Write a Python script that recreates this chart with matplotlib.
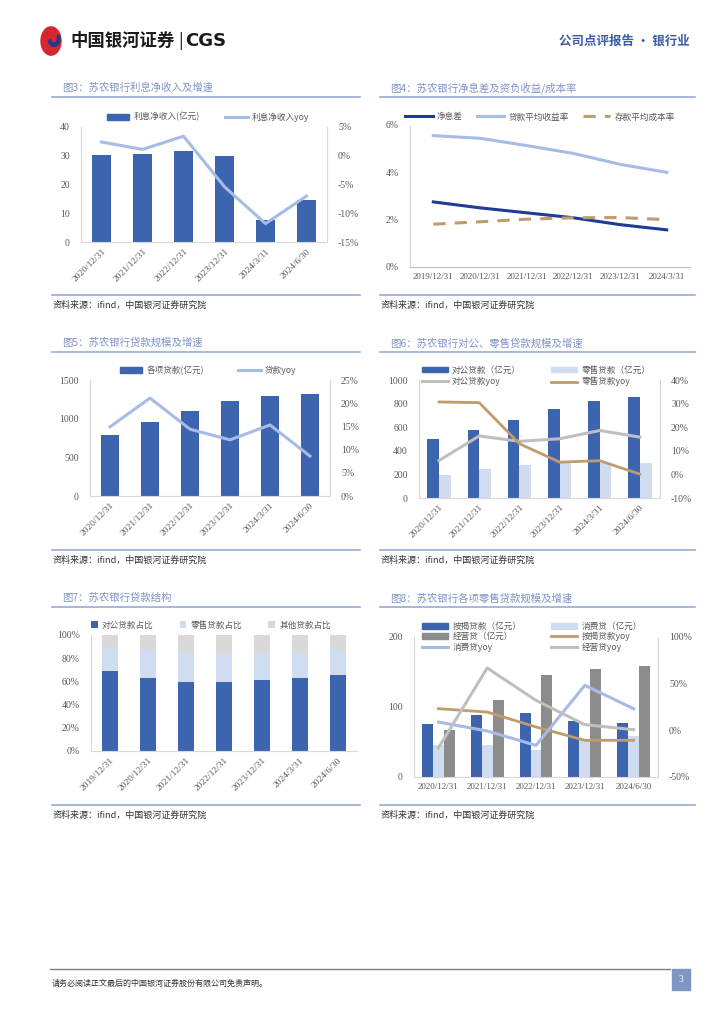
import matplotlib
matplotlib.use("Agg")
import matplotlib.pyplot as plt
from matplotlib.lines import Line2D
from matplotlib.patches import Patch, Circle, Rectangle, Wedge
from matplotlib.ticker import FuncFormatter, MultipleLocator

plt.rcParams['font.family'] = ['Noto Sans CJK SC', 'DejaVu Sans']
plt.rcParams['axes.unicode_minus'] = False

W, H = 724, 1024

# ---- data ----
cat_a = ["2020/12/31", "2021/12/31", "2022/12/31", "2023/12/31", "2024/3/31", "2024/6/30"]
nii = [30.4, 30.7, 31.8, 30.0, 7.5, 14.7]
nii_yoy = [2.4, 1.1, 3.4, -5.4, -11.8, -7.0]

cat_b = ["2019/12/31", "2020/12/31", "2021/12/31", "2022/12/31", "2023/12/31", "2024/3/31"]
nim = [2.75, 2.50, 2.29, 2.08, 1.79, 1.57]
loan_yield = [5.55, 5.44, 5.13, 4.80, 4.34, 4.00]
dep_cost = [1.81, 1.91, 2.02, 2.08, 2.09, 2.00]

loans = [789, 961, 1099, 1228, 1297, 1319]
loans_yoy = [14.9, 21.1, 14.4, 12.1, 15.3, 8.6]

corp = [501, 577, 659, 755, 823, 859]
retail = [192, 248, 279, 300, 300, 296]
corp_yoy = [5.9, 16.3, 14.0, 15.1, 18.6, 15.8]
retail_yoy = [30.7, 30.4, 13.0, 5.2, 5.8, 0.1]

cat_c = ["2019/12/31", "2020/12/31", "2021/12/31", "2022/12/31", "2023/12/31", "2024/3/31", "2024/6/30"]
corp_pct = [68.6, 62.8, 59.9, 59.7, 61.1, 63.1, 65.4]
retail_pct = [20.7, 23.9, 25.7, 25.0, 23.6, 21.9, 21.9]
other_pct = [100 - a - b for a, b in zip(corp_pct, retail_pct)]

cat_d = ["2020/12/31", "2021/12/31", "2022/12/31", "2023/12/31", "2024/6/30"]
mortgage = [75.2, 89.0, 91.9, 80.5, 76.7]
consumer = [45.2, 45.2, 38.1, 54.8, 58.1]
business = [66.7, 110.5, 146.2, 153.8, 158.1]
mortgage_yoy = [23.2, 19.6, 3.6, -10.7, -10.7]
consumer_yoy = [8.9, -0.7, -16.1, 48.2, 23.2]
business_yoy = [-18.9, 66.8, 32.1, 6.1, 0.7]

# ---- style ----
BLUE = "#3D64AE"
LBLUE = "#A6BBE6"
PALE = "#D0DCF0"
NAVY = "#1F3B93"
TAN = "#BE9C6C"
GRAY = "#8C8C8C"
LGRAY = "#BFBFBF"
OGRAY = "#D9D9D9"
TITLE_C = "#8093C6"
LINE_C = "#9AAAD4"
TXT = "#595959"
NUMF = ['Liberation Serif', 'Noto Sans CJK SC']

fig = plt.figure(figsize=(W / 100, H / 100), dpi=100)


def rect(x0, y0, x1, y1):
    return [x0 / W, 1 - y1 / H, (x1 - x0) / W, (y1 - y0) / H]


def ftext(x, y, s, **kw):
    fig.text(x / W, 1 - y / H, s, **kw)


def hline(x0, x1, y, color, lw):
    fig.add_artist(Line2D([x0 / W, x1 / W], [1 - y / H, 1 - y / H], color=color, lw=lw))


def style(ax, right=None):
    for s in ["top", "right"]:
        ax.spines[s].set_visible(False)
    ax.spines["left"].set_color(OGRAY)
    ax.spines["bottom"].set_color(OGRAY)
    ax.tick_params(axis="y", length=0, labelsize=7, colors=TXT, pad=8)
    ax.tick_params(axis="x", length=0, pad=4)
    for lab in ax.get_yticklabels():
        lab.set_family(NUMF)
    if right is not None:
        for s in ["top", "left", "bottom"]:
            right.spines[s].set_visible(False)
        right.spines["right"].set_color(OGRAY)
        right.tick_params(length=0, labelsize=7, colors=TXT, pad=8)
        for lab in right.get_yticklabels():
            lab.set_family(NUMF)


def xlabels(ax, cats, rot):
    ax.set_xticks(range(len(cats)))
    if rot:
        ax.set_xticklabels(cats, rotation=45, ha="right", rotation_mode="anchor",
                           family=NUMF, fontsize=6.8, color=TXT)
    else:
        ax.set_xticklabels(cats, family=NUMF, fontsize=6.5, color=TXT)
    ax.set_xlim(-0.5, len(cats) - 0.5)


def legend(ax, handles, labels, cx, cy, ncol, **kw):
    opts = dict(loc="center", bbox_to_anchor=(cx / W, 1 - cy / H), bbox_transform=fig.transFigure,
                ncol=ncol, frameon=False, prop={'family': ['Noto Sans CJK SC', 'DejaVu Sans'], 'size': 6.2},
                handlelength=3.2, handletextpad=0.5, columnspacing=3.0, labelspacing=0.3,
                labelcolor=TXT)
    opts.update(kw)
    ax.legend(handles, labels, **opts)


def frame(x0, x1, ytitle, title):
    ftext(x0 + 10, ytitle, title, fontsize=7.5, color=TITLE_C, va="center")
    hline(x0, x1, ytitle + 9, LINE_C, 1.2)
    hline(x0, x1, ytitle + 207, LINE_C, 1.2)
    ftext(x0 + 1, ytitle + 217, "资料来源：ifind，中国银河证券研究院", fontsize=6.5, color="#333333",
          va="center", style="italic")


pct = FuncFormatter(lambda v, p: "%d%%" % round(v))

# ---- header ----
fig.add_artist(Circle((51 / W, 1 - 41 / H), 10 / W, transform=fig.transFigure, color="#D7262E"))
fig.add_artist(Wedge((54 / W, 1 - 38 / H), 6 / W, 200, 20, width=2.5 / W,
                     transform=fig.transFigure, color="#1F3B8F"))
ftext(70, 41, "中国银河证券", fontsize=12.5, fontweight="bold", color="#1A1A1A", va="center")
ftext(178, 41, "|", fontsize=12, color="#1A1A1A", va="center")
ftext(185, 41, "CGS", fontsize=13, fontweight="bold", color="#1A1A1A", va="center", family="DejaVu Sans")
ftext(690, 41, "公司点评报告 · 银行业", fontsize=9, fontweight="bold", color="#3B5BA5", va="center", ha="right")

# ---- fig3 ----
frame(52, 360, 88, "图3：苏农银行利息净收入及增速")
ax = fig.add_axes(rect(81, 127, 327, 242))
x = range(len(cat_a))
ax.bar(x, nii, width=0.44, color=BLUE)
ax.set_ylim(0, 40)
ax.yaxis.set_major_locator(MultipleLocator(10))
ax2 = ax.twinx()
ax2.plot(x, nii_yoy, color=LBLUE, lw=2.2)
ax2.set_ylim(-15, 5)
ax2.yaxis.set_major_locator(MultipleLocator(5))
ax2.yaxis.set_major_formatter(pct)
xlabels(ax, cat_a, True)
style(ax, ax2)
legend(ax, [Patch(color=BLUE), Line2D([], [], color=LBLUE, lw=2.2)],
       ["利息净收入(亿元)", "利息净收入yoy"], 208, 117, 2, handlelength=2.6)

# ---- fig4 ----
frame(380, 695, 88, "图4：苏农银行净息差及资负收益/成本率")
ax = fig.add_axes(rect(410, 125, 690, 267))
x = range(len(cat_b))
ax.plot(x, nim, color=NAVY, lw=2.2, label="净息差")
ax.plot(x, loan_yield, color=LBLUE, lw=2.2, label="贷款平均收益率")
ax.plot(x, dep_cost, color=TAN, lw=2.2, ls=(0, (4, 3)), label="存款平均成本率")
ax.set_ylim(0, 6)
ax.yaxis.set_major_locator(MultipleLocator(2))
ax.yaxis.set_major_formatter(pct)
xlabels(ax, cat_b, False)
style(ax)
ax.spines["bottom"].set_color("#BFBFBF")
legend(ax, *ax.get_legend_handles_labels(), 540, 117, 3, columnspacing=1.6)

# ---- fig5 ----
frame(52, 360, 343, "图5：苏农银行贷款规模及增速")
ax = fig.add_axes(rect(90, 380, 330, 496))
x = range(len(cat_a))
ax.bar(x, loans, width=0.46, color=BLUE)
ax.set_ylim(0, 1500)
ax.yaxis.set_major_locator(MultipleLocator(500))
ax2 = ax.twinx()
ax2.plot(x, loans_yoy, color=LBLUE, lw=2.2)
ax2.set_ylim(0, 25)
ax2.yaxis.set_major_locator(MultipleLocator(5))
ax2.yaxis.set_major_formatter(pct)
xlabels(ax, cat_a, True)
style(ax, ax2)
legend(ax, [Patch(color=BLUE), Line2D([], [], color=LBLUE, lw=2.2)],
       ["各项贷款(亿元)", "贷款yoy"], 208, 370, 2, handlelength=2.6, columnspacing=4.0)

# ---- fig6 ----
frame(380, 695, 343, "图6：苏农银行对公、零售贷款规模及增速")
ax = fig.add_axes(rect(419, 380, 660, 498))
x = range(len(cat_a))
ax.bar([i - 0.145 for i in x], corp, width=0.29, color=BLUE)
ax.bar([i + 0.145 for i in x], retail, width=0.29, color=PALE)
ax.set_ylim(0, 1000)
ax.yaxis.set_major_locator(MultipleLocator(200))
ax2 = ax.twinx()
ax2.plot(x, corp_yoy, color=LGRAY, lw=2.2)
ax2.plot(x, retail_yoy, color=TAN, lw=2.0)
ax2.set_ylim(-10, 40)
ax2.yaxis.set_major_locator(MultipleLocator(10))
ax2.yaxis.set_major_formatter(pct)
xlabels(ax, cat_a, True)
style(ax, ax2)
legend(ax2, [Patch(color=BLUE), Line2D([], [], color=LGRAY, lw=2.2),
             Patch(color=PALE), Line2D([], [], color=TAN, lw=2.0)],
       ["对公贷款（亿元）", "对公贷款yoy", "零售贷款（亿元）", "零售贷款yoy"], 536, 376, 2,
       handlelength=3.0, handleheight=0.6, labelspacing=0.25, columnspacing=3.5)

# ---- fig7 ----
frame(52, 360, 598, "图7：苏农银行贷款结构")
ax = fig.add_axes(rect(91, 635, 357, 751))
x = range(len(cat_c))
ax.bar(x, corp_pct, width=0.42, color=BLUE, label="对公贷款占比")
ax.bar(x, retail_pct, width=0.42, bottom=corp_pct, color=PALE, label="零售贷款占比")
ax.bar(x, other_pct, width=0.42, bottom=[a + b for a, b in zip(corp_pct, retail_pct)],
       color=OGRAY, label="其他贷款占比")
ax.set_ylim(0, 100)
ax.yaxis.set_major_locator(MultipleLocator(20))
ax.yaxis.set_major_formatter(pct)
xlabels(ax, cat_c, True)
style(ax)
legend(ax, *ax.get_legend_handles_labels(), 211, 625, 3, handlelength=0.8, handleheight=0.8,
       columnspacing=3.0)

# ---- fig8 ----
frame(380, 695, 598, "图8：苏农银行各项零售贷款规模及增速")
ax = fig.add_axes(rect(414, 637, 658, 777))
x = range(len(cat_d))
ax.bar([i - 0.225 for i in x], mortgage, width=0.225, color=BLUE)
ax.bar(list(x), consumer, width=0.225, color=PALE)
ax.bar([i + 0.225 for i in x], business, width=0.225, color=GRAY)
ax.set_ylim(0, 200)
ax.yaxis.set_major_locator(MultipleLocator(100))
ax2 = ax.twinx()
ax2.plot(x, mortgage_yoy, color=TAN, lw=2.0)
ax2.plot(x, consumer_yoy, color=LBLUE, lw=2.2)
ax2.plot(x, business_yoy, color=LGRAY, lw=2.2)
ax2.set_ylim(-50, 100)
ax2.yaxis.set_major_locator(MultipleLocator(50))
ax2.yaxis.set_major_formatter(pct)
xlabels(ax, cat_d, False)
style(ax, ax2)
legend(ax2, [Patch(color=BLUE), Patch(color=GRAY), Line2D([], [], color=LBLUE, lw=2.2),
             Patch(color=PALE), Line2D([], [], color=TAN, lw=2.0), Line2D([], [], color=LGRAY, lw=2.2)],
       ["按揭贷款（亿元）", "经营贷（亿元）", "消费贷yoy", "消费贷（亿元）", "按揭贷款yoy", "经营贷yoy"],
       532, 637, 2, handlelength=3.0, handleheight=0.6, labelspacing=0.15, columnspacing=3.5)

# ---- footer ----
hline(50, 670, 969, "#808080", 1.0)
ftext(52, 983, "请务必阅读正文最后的中国银河证券股份有限公司免责声明。", fontsize=5.8, color="#333333", va="center")
fig.add_artist(Rectangle((672 / W, 1 - 990 / H), 18 / W, 21 / H, transform=fig.transFigure,
                         color="#7F95C4"))
ftext(681, 980, "3", fontsize=7, color="white", ha="center", va="center", family=NUMF)

fig.savefig("out.png", dpi=100)
